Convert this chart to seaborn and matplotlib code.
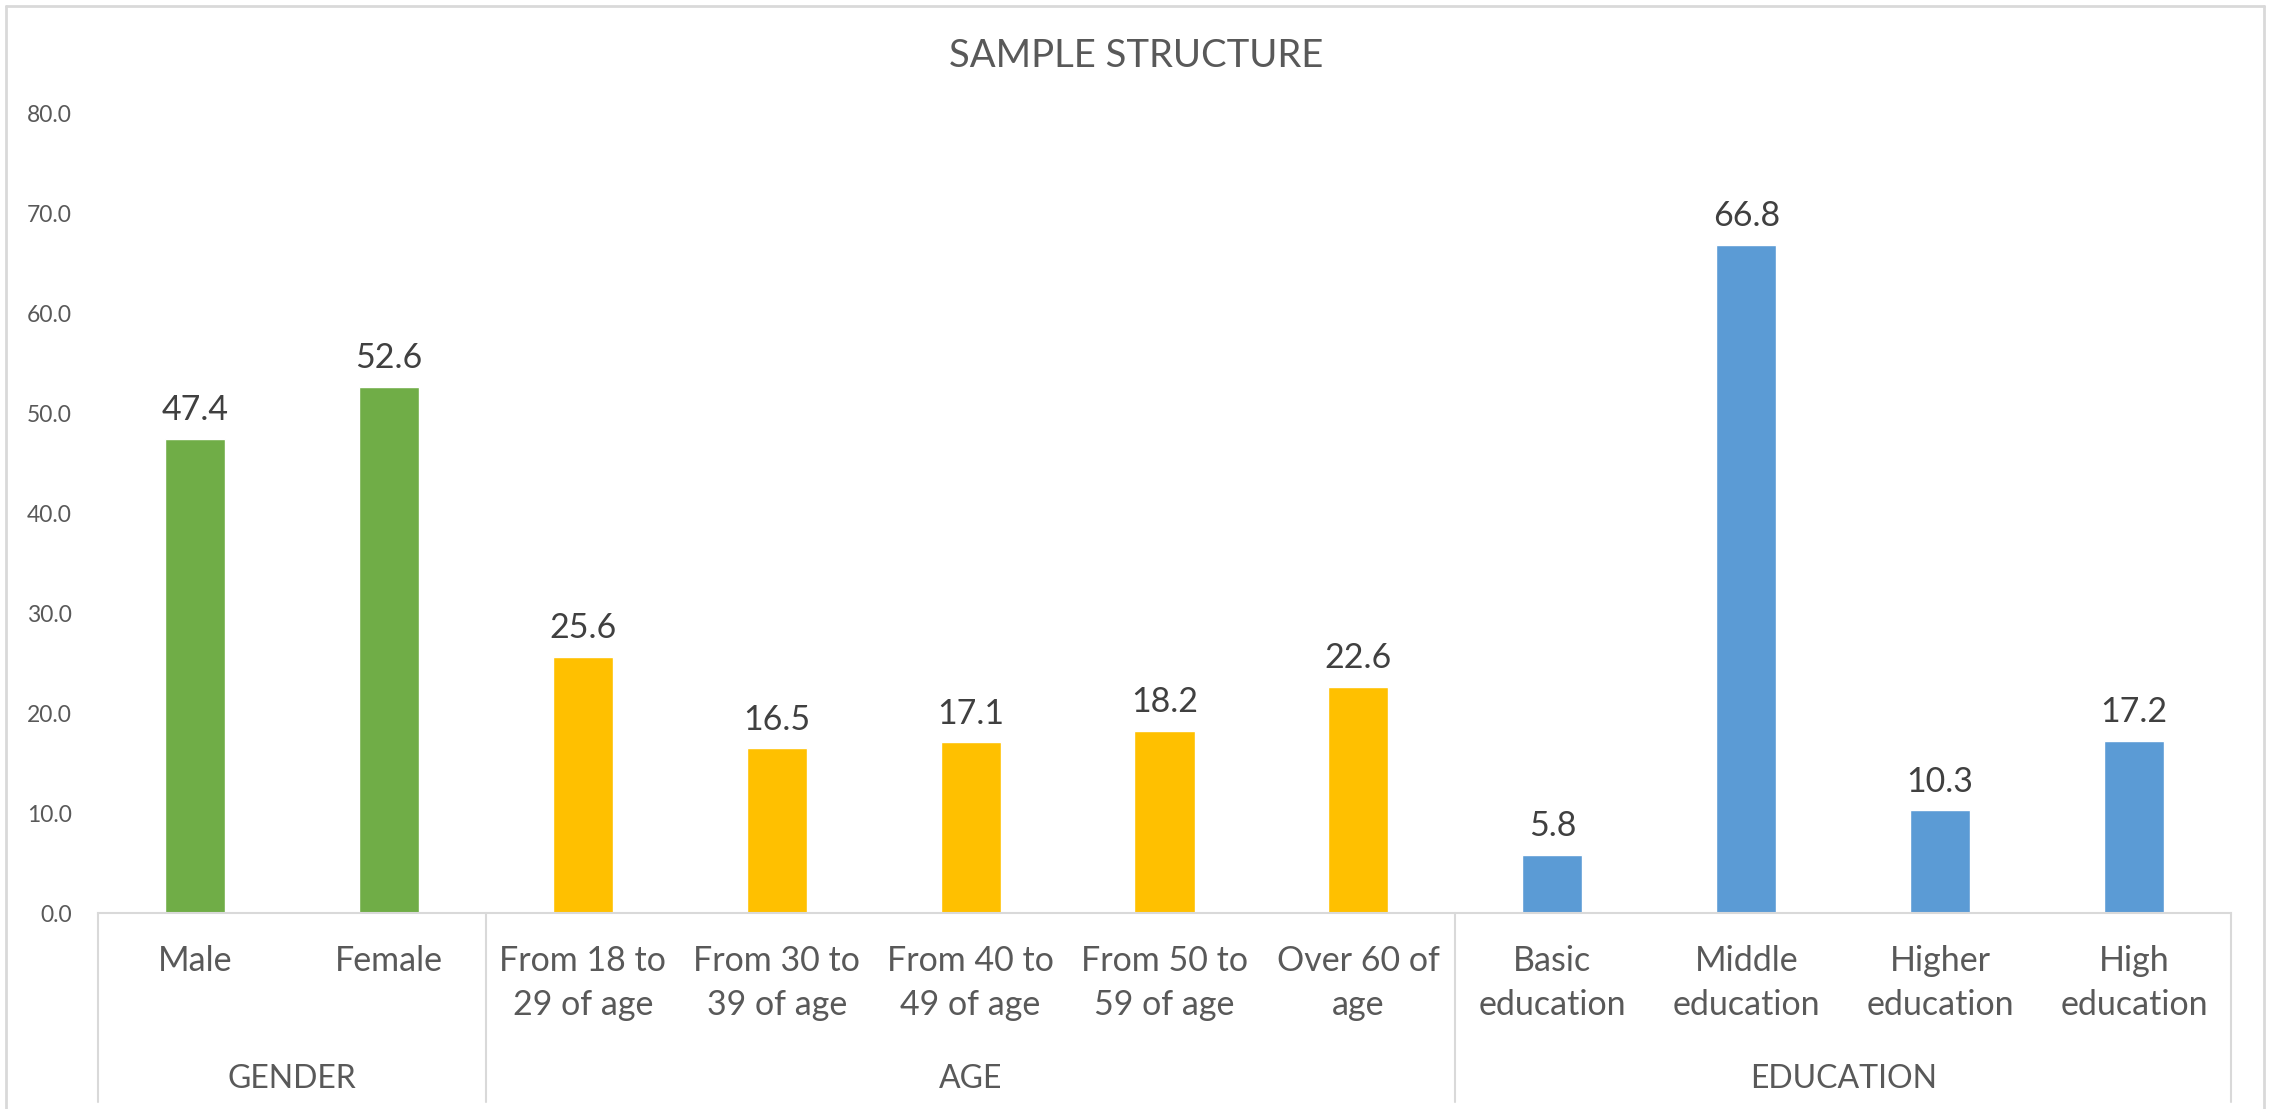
import matplotlib
matplotlib.use("Agg")
import matplotlib.pyplot as plt
import matplotlib.transforms as mtransforms
from matplotlib.lines import Line2D
import seaborn as sns
import pandas as pd

# Sample structure data (percent)
categories = ["Male", "Female",
              "From 18 to\n29 of age", "From 30 to\n39 of age", "From 40 to\n49 of age",
              "From 50 to\n59 of age", "Over 60 of\nage",
              "Basic\neducation", "Middle\neducation", "Higher\neducation", "High\neducation"]
values = [47.4, 52.6, 25.6, 16.5, 17.1, 18.2, 22.6, 5.8, 66.8, 10.3, 17.2]
groups = ["GENDER"] * 2 + ["AGE"] * 5 + ["EDUCATION"] * 4
group_names = ["GENDER", "AGE", "EDUCATION"]
group_colors = ["#70AD47", "#FFC000", "#5B9BD5"]
y_ticks = [0, 10, 20, 30, 40, 50, 60, 70, 80]

df = pd.DataFrame({"category": categories, "value": values, "group": groups})

sns.set_theme(style="white")
plt.rcParams["font.family"] = ["Lato", "DejaVu Sans"]

W, H = 2272, 1109
fig = plt.figure(figsize=(W / 100, H / 100), dpi=100)
ax = fig.add_axes([98 / W, (H - 913) / H, (2231 - 98) / W, (913 - 113) / H])

sns.barplot(data=df, x="category", y="value", hue="group", hue_order=group_names,
            palette=group_colors, order=categories, dodge=False, width=0.31,
            saturation=1, legend=False, ax=ax)

for cont in ax.containers:
    ax.bar_label(cont, fmt="%.1f", padding=9, fontsize=24.5, color="#404040")

ax.set_ylim(0, 80)
ax.set_xlim(-0.5, len(categories) - 0.5)
ax.set_yticks(y_ticks)
ax.set_yticklabels([f"{t:.1f}" for t in y_ticks], fontsize=16.5, color="#595959")
ax.tick_params(axis="y", length=0, pad=19)
ax.tick_params(axis="x", length=0, pad=23)
ax.set_xticks(range(len(categories)))
ax.set_xticklabels(categories, fontsize=24.5, color="#595959", linespacing=1.45)
ax.set_xlabel("")
ax.set_ylabel("")
for s in ["top", "right", "left"]:
    ax.spines[s].set_visible(False)
ax.spines["bottom"].set_color("#D9D9D9")
ax.spines["bottom"].set_linewidth(1.5)

# Group separators and group names below the category labels
trans = mtransforms.blended_transform_factory(ax.transData, fig.transFigure)
bounds = [-0.5]
idx = 0
for g in group_names:
    n = groups.count(g)
    start, end = idx - 0.5, idx + n - 0.5
    ax.text((start + end) / 2, (H - 1088) / H, g, transform=trans, ha="center", va="baseline",
            fontsize=23, color="#595959")
    bounds.append(end)
    idx += n
for b in bounds:
    fig.add_artist(Line2D([b, b], [(H - 913) / H, (H - 1102) / H], transform=trans,
                          color="#D9D9D9", lw=1.5))

# Title
fig.text(0.5, (H - 67) / H, "SAMPLE STRUCTURE", ha="center", va="baseline",
         fontsize=27.5, color="#595959")

# Chart frame
frame_kw = dict(color="#D9D9D9", lw=2, transform=None)
fig.add_artist(Line2D([6, 6], [0, H - 6], **frame_kw))
fig.add_artist(Line2D([6, W - 8], [H - 6, H - 6], **frame_kw))
fig.add_artist(Line2D([W - 8, W - 8], [0, H - 6], **frame_kw))

fig.savefig("out.png", dpi=100, facecolor="white")
